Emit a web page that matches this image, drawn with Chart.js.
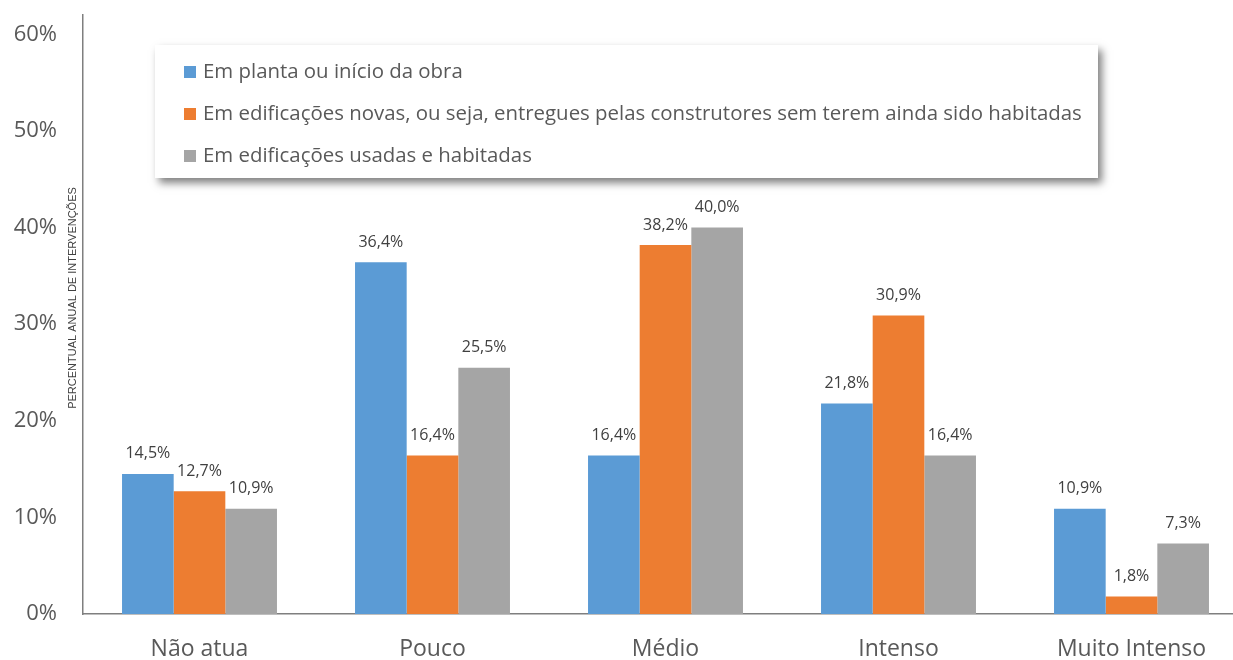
<!DOCTYPE html>
<html lang="pt-BR">
<head>
<meta charset="utf-8">
<title>Percentual anual de intervenções</title>
<script src="https://cdn.jsdelivr.net/npm/chart.js@4/dist/chart.umd.min.js"></script>
<style>
    html, body { margin: 0; padding: 0; background: #fff; overflow: hidden; }
    #grafico { display: block; }
</style>
</head>
<body>
<canvas id="grafico" width="1250" height="660"></canvas>
<script>
const categorias = ['Não atua', 'Pouco', 'Médio', 'Intenso', 'Muito Intenso'];
const emPlanta = [14.5, 36.4, 16.4, 21.8, 10.9];
const novas = [12.7, 16.4, 38.2, 30.9, 1.8];
const usadas = [10.9, 25.5, 40.0, 16.4, 7.3];
const ticksY = [0, 10, 20, 30, 40, 50, 60];
const nomesSeries = [
    'Em planta ou início da obra',
    'Em edificações novas, ou seja, entregues pelas construtores sem terem ainda sido habitadas',
    'Em edificações usadas e habitadas'
];
const tituloY = 'PERCENTUAL ANUAL DE INTERVENÇÕES';

const cores = ['#5B9BD5', '#ED7D31', '#A5A5A5'];
const fonte = "'Open Sans', 'Noto Sans', sans-serif";
const corTexto = '#595959';

const porcento = v => v.toFixed(1).replace('.', ',') + '%';

// legenda, título do eixo e rótulos desenhados à mão
const extras = {
    id: 'extras',
    afterDatasetsDraw(chart) {
        const ctx = chart.ctx;
        ctx.save();
        ctx.fillStyle = '#404040';
        ctx.font = '16px ' + fonte;
        ctx.textAlign = 'center';
        ctx.textBaseline = 'middle';
        chart.data.datasets.forEach((ds, i) => {
            chart.getDatasetMeta(i).data.forEach((bar, j) => {
                ctx.fillText(porcento(ds.data[j]), bar.x, bar.y - 20);
            });
        });
        ctx.restore();
    },
    afterDraw(chart) {
        const ctx = chart.ctx;

        // caixa da legenda com sombra
        ctx.save();
        ctx.shadowColor = 'rgba(0, 0, 0, 0.5)';
        ctx.shadowBlur = 8;
        ctx.shadowOffsetX = 4;
        ctx.shadowOffsetY = 5;
        ctx.fillStyle = '#fff';
        ctx.fillRect(155, 45, 943, 133);
        ctx.restore();

        ctx.save();
        ctx.font = '20.4px ' + fonte;
        ctx.textBaseline = 'middle';
        chart.data.datasets.forEach((ds, i) => {
            const y = 72 + i * 42;
            ctx.fillStyle = ds.backgroundColor;
            ctx.fillRect(184, y - 6, 12, 12);
            ctx.fillStyle = corTexto;
            ctx.fillText(ds.label, 203, y);
        });
        ctx.restore();

        // título do eixo y
        ctx.save();
        ctx.translate(73, 298);
        ctx.rotate(-Math.PI / 2);
        ctx.font = '11px "Liberation Sans", Arial, sans-serif';
        ctx.fillStyle = '#404040';
        ctx.textAlign = 'center';
        ctx.textBaseline = 'middle';
        ctx.fillText(tituloY, 0, 0);
        ctx.restore();
    }
};

new Chart(document.getElementById('grafico'), {
    type: 'bar',
    data: {
        labels: categorias,
        datasets: [emPlanta, novas, usadas].map((serie, i) => ({
            label: nomesSeries[i],
            data: serie,
            backgroundColor: cores[i],
            borderWidth: 0,
            categoryPercentage: 0.665,
            barPercentage: 1.0
        }))
    },
    options: {
        responsive: false,
        animation: false,
        layout: { padding: { top: 15, right: 2, left: 0, bottom: 0 } },
        plugins: {
            legend: { display: false },
            tooltip: { enabled: false }
        },
        scales: {
            x: {
                grid: { display: false, drawTicks: false },
                border: { color: '#7F7F7F', width: 1.5 },
                ticks: {
                    color: corTexto,
                    font: { family: fonte, size: 23 },
                    padding: 22,
                    maxRotation: 0
                },
                afterFit: s => { s.height = 46; }
            },
            y: {
                min: 0,
                max: 62,
                afterBuildTicks: s => { s.ticks = ticksY.map(v => ({ value: v })); },
                grid: { display: false, drawTicks: false },
                border: { color: '#7F7F7F', width: 1.5 },
                ticks: {
                    color: corTexto,
                    font: { family: fonte, size: 22 },
                    padding: 26,
                    callback: v => v + '%'
                },
                afterFit: s => { s.width = 83; s.paddingTop = 0; }
            }
        }
    },
    plugins: [extras]
});
</script>
</body>
</html>
